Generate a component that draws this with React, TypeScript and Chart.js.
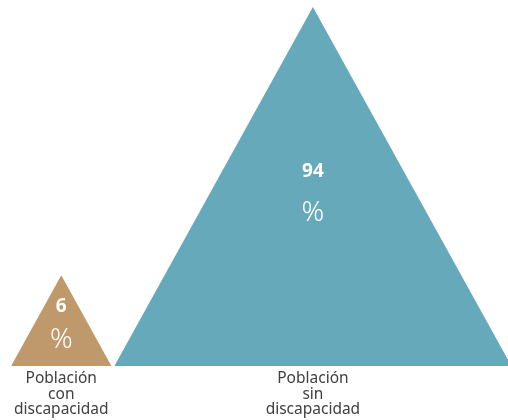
import React, { useEffect, useRef } from "react";
import { Chart, registerables } from "chart.js";

Chart.register(...registerables);

// Share of population, in percent
const categories: string[][] = [
  ["Población", "con", "discapacidad"],
  ["Población", "sin", "discapacidad"],
];
const values: number[] = [6, 94];
const valueLabels: string[] = ["6", "94"];
const unitLabel = "%";
const colors: string[] = ["#BF986B", "#66A9BA"];

// Triangles are sized by area: height and width grow with sqrt(value)
const SLOPE = 0.553; // half-width / height
const START = 0.3;
const GAP = 0.08;
const X_MAX = 13.72;
const Y_MAX = 9.884;

function buildTriangles() {
  let left = START;
  return values.map((v) => {
    const h = Math.sqrt(v);
    const half = SLOPE * h;
    const tri = {
      left,
      center: left + half,
      right: left + 2 * half,
      height: h,
    };
    left = tri.right + GAP;
    return tri;
  });
}

export default function App() {
  const ref = useRef<HTMLCanvasElement | null>(null);

  useEffect(() => {
    if (!ref.current) return;
    const tris = buildTriangles();
    const centers = tris.map((t) => t.center);

    const valueLabelPlugin = {
      id: "valueLabels",
      afterDatasetsDraw(chart: any) {
        const { ctx, scales } = chart;
        const xs = scales.x;
        const ys = scales.y;
        ctx.save();
        ctx.fillStyle = "#ffffff";
        ctx.textAlign = "center";
        ctx.textBaseline = "middle";
        tris.forEach((t, i) => {
          const cx = xs.getPixelForValue(t.center);
          const mid = ys.getPixelForValue(t.height * 0.487) + 2;
          const gap = 29 + 1.2 * Math.sqrt(values[i]);
          ctx.font = "bold 19px 'Noto Sans', sans-serif";
          ctx.fillText(valueLabels[i], cx, mid - gap / 2 - 1);
          ctx.font = "300 28px 'Noto Sans', sans-serif";
          ctx.fillText(unitLabel, cx, mid + gap / 2);
        });
        ctx.restore();
      },
    };

    const chart = new Chart(ref.current, {
      type: "scatter",
      data: {
        datasets: tris.map((t, i) => ({
          label: categories[i].join(" "),
          data: [
            { x: t.left, y: 0 },
            { x: t.center, y: t.height },
            { x: t.right, y: 0 },
          ],
          showLine: true,
          fill: "origin",
          backgroundColor: colors[i],
          borderColor: colors[i],
          borderWidth: 0,
          pointRadius: 0,
          pointHoverRadius: 0,
          tension: 0,
        })),
      },
      options: {
        animation: false,
        responsive: false,
        layout: { padding: 0 },
        plugins: {
          legend: { display: false },
          tooltip: { enabled: false },
        },
        scales: {
          x: {
            type: "linear",
            min: 0,
            max: X_MAX,
            grid: { display: false },
            border: { display: false },
            afterBuildTicks: (scale: any) => {
              scale.ticks = centers.map((c) => ({ value: c }));
            },
            afterFit: (scale: any) => {
              scale.height = 54;
            },
            ticks: {
              autoSkip: false,
              maxRotation: 0,
              padding: -3,
              color: "#404040",
              font: { family: "'Noto Sans', sans-serif", size: 15.5, lineHeight: 1.0 },
              callback: (value: any) => {
                const i = centers.findIndex((c) => Math.abs(c - value) < 1e-6);
                return i >= 0 ? categories[i] : "";
              },
            },
          },
          y: {
            display: false,
            min: 0,
            max: Y_MAX,
          },
        },
      },
      plugins: [valueLabelPlugin],
    });

    return () => chart.destroy();
  }, []);

  return (
    <div style={{ position: "fixed", left: 0, top: 0, width: 508, height: 420, background: "#ffffff" }}>
      <canvas ref={ref} width={508} height={420} style={{ display: "block" }} />
    </div>
  );
}
